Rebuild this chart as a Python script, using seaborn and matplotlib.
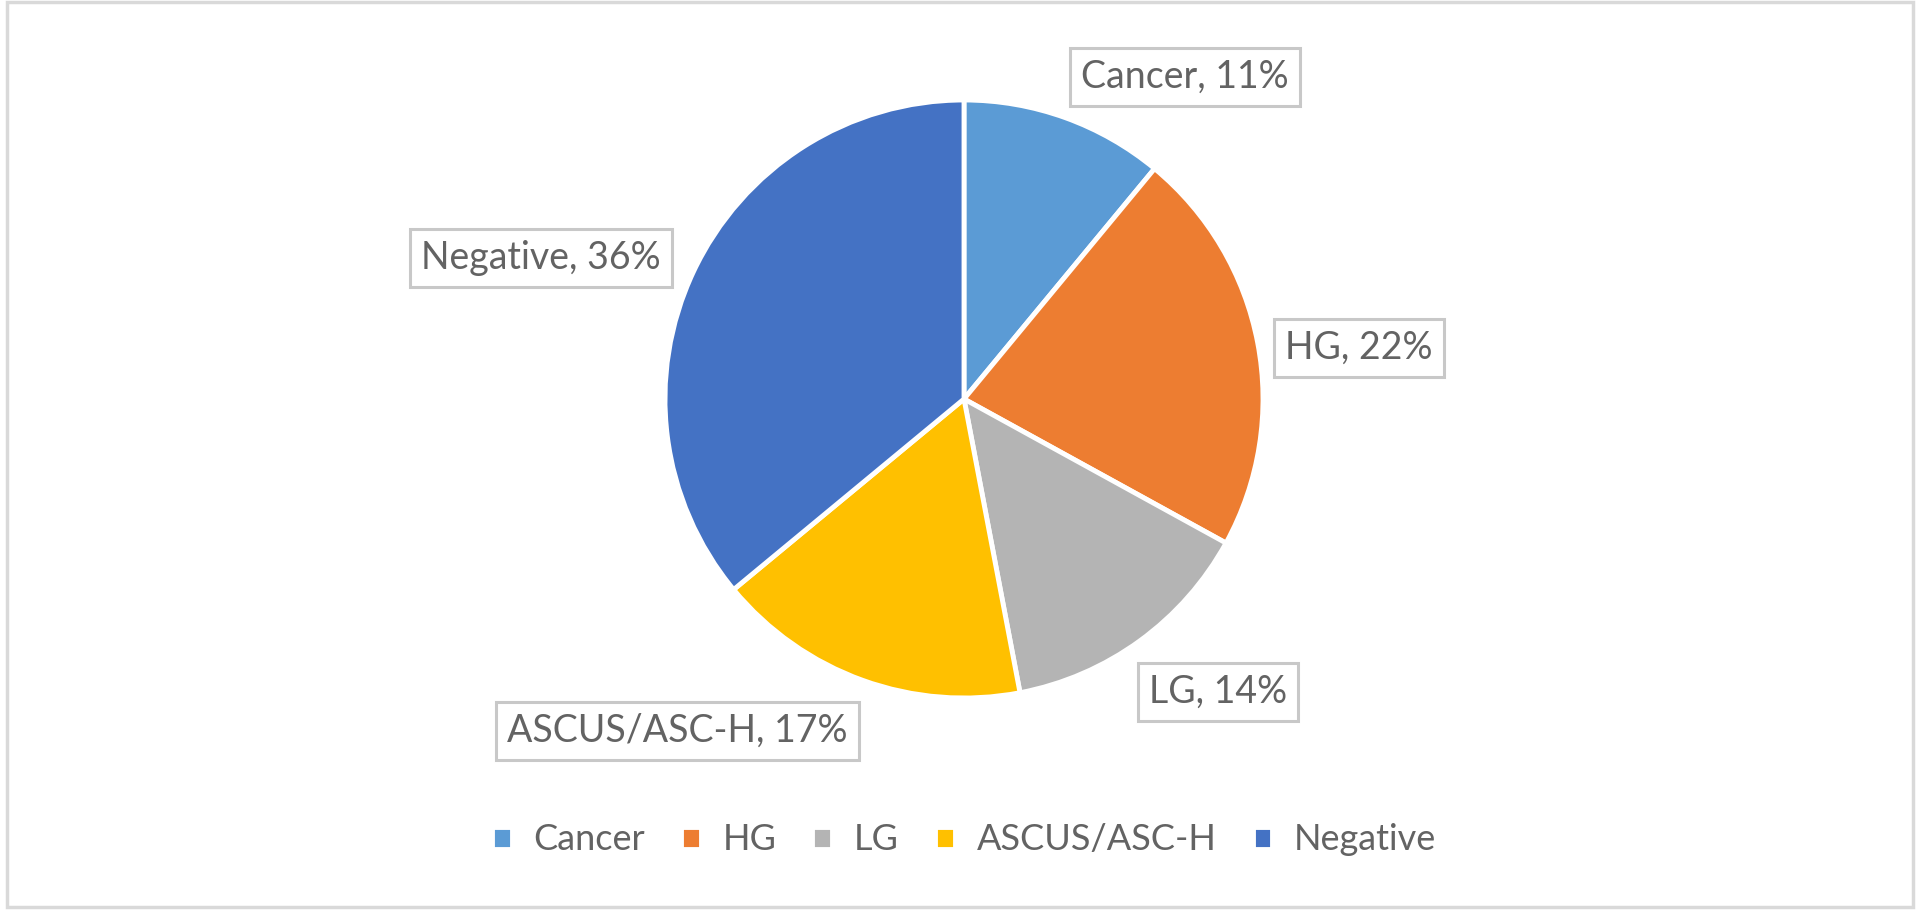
import matplotlib
matplotlib.use("Agg")
import matplotlib.pyplot as plt
import matplotlib.patches as mpatches
import seaborn as sns

# datos del gráfico
categorias = ['Cancer', 'HG', 'LG', 'ASCUS/ASC-H', 'Negative']
porcentajes = [11, 22, 14, 17, 36]
colores = ['#5B9BD5', '#ED7D31', '#B4B4B4', '#FFC000', '#4472C4']

sns.set_theme(style="white")
plt.rcParams['font.family'] = ['Lato', 'DejaVu Sans']

fig = plt.figure(figsize=(19.2, 9.13), dpi=100)
ax = fig.add_axes([0, 0, 1, 1])

paleta = sns.color_palette(colores)
wedges, _ = ax.pie(porcentajes, colors=paleta, startangle=90, counterclock=False,
                   center=(964, 399), radius=299, frame=True,
                   wedgeprops=dict(edgecolor='white', linewidth=3.5))
# el eje y está invertido, así que se reflejan las cuñas
for w in wedges:
    t1, t2 = w.theta1, w.theta2
    w.set_theta1(-t2)
    w.set_theta2(-t1)
ax.set_xlim(0, 1920)
ax.set_ylim(913, 0)
ax.set_aspect('equal')
ax.axis('off')

# posiciones de las etiquetas
pos_etiquetas = [(1185, 77), (1359, 348), (1218, 692), (677, 731), (541, 258)]
for cat, pct, (x, y) in zip(categorias, porcentajes, pos_etiquetas):
    ax.text(x, y, f'{cat}, {pct}%', ha='center', va='center', fontsize=27,
            color='#636363',
            bbox=dict(boxstyle='square,pad=0.3', facecolor='white',
                      edgecolor='#C8C8C8', linewidth=2.2))

ax.legend(wedges, categorias, loc='center', bbox_to_anchor=(964 / 1920, 1 - 840 / 913),
          ncol=5, frameon=False, fontsize=26, handlelength=0.55, handleheight=0.55,
          handletextpad=0.6, columnspacing=1.0, labelcolor='#636363')

fig.patches.append(mpatches.Rectangle((7 / 1920, 6 / 913), 1906 / 1920, 905 / 913,
                                      transform=fig.transFigure, fill=False,
                                      edgecolor='#D9D9D9', linewidth=2.5))

plt.savefig('out.png', dpi=100)
